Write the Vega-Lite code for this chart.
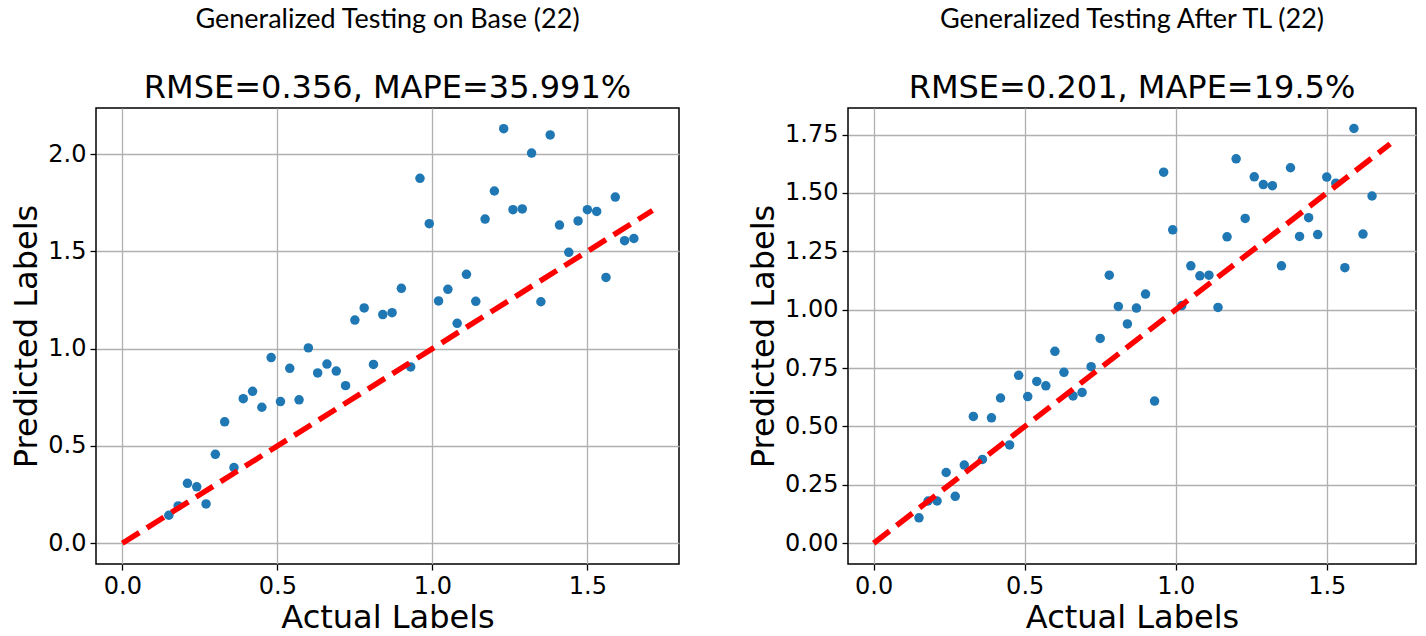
{
  "$schema": "https://vega.github.io/schema/vega-lite/v6.json",
  "background": "white",
  "padding": {"left": 10, "top": 5, "right": 5, "bottom": 0},
  "spacing": 66,
  "datasets": {
    "base": [
      {"actual": 0.15, "predicted": 0.144}, {"actual": 0.18, "predicted": 0.192}, {"actual": 0.21, "predicted": 0.308},
      {"actual": 0.24, "predicted": 0.290}, {"actual": 0.27, "predicted": 0.202}, {"actual": 0.30, "predicted": 0.457},
      {"actual": 0.33, "predicted": 0.624}, {"actual": 0.36, "predicted": 0.389}, {"actual": 0.39, "predicted": 0.743},
      {"actual": 0.42, "predicted": 0.781}, {"actual": 0.45, "predicted": 0.699}, {"actual": 0.48, "predicted": 0.954},
      {"actual": 0.51, "predicted": 0.728}, {"actual": 0.54, "predicted": 0.899}, {"actual": 0.57, "predicted": 0.737},
      {"actual": 0.60, "predicted": 1.004}, {"actual": 0.63, "predicted": 0.875}, {"actual": 0.66, "predicted": 0.921},
      {"actual": 0.69, "predicted": 0.885}, {"actual": 0.72, "predicted": 0.810}, {"actual": 0.75, "predicted": 1.147},
      {"actual": 0.78, "predicted": 1.209}, {"actual": 0.81, "predicted": 0.919}, {"actual": 0.84, "predicted": 1.175},
      {"actual": 0.87, "predicted": 1.185}, {"actual": 0.90, "predicted": 1.310}, {"actual": 0.93, "predicted": 0.906},
      {"actual": 0.96, "predicted": 1.875}, {"actual": 0.99, "predicted": 1.642}, {"actual": 1.02, "predicted": 1.245},
      {"actual": 1.05, "predicted": 1.305}, {"actual": 1.08, "predicted": 1.130}, {"actual": 1.11, "predicted": 1.382},
      {"actual": 1.14, "predicted": 1.243}, {"actual": 1.17, "predicted": 1.666}, {"actual": 1.20, "predicted": 1.810},
      {"actual": 1.23, "predicted": 2.130}, {"actual": 1.26, "predicted": 1.714}, {"actual": 1.29, "predicted": 1.718},
      {"actual": 1.32, "predicted": 2.005}, {"actual": 1.35, "predicted": 1.241}, {"actual": 1.38, "predicted": 2.098},
      {"actual": 1.41, "predicted": 1.635}, {"actual": 1.44, "predicted": 1.495}, {"actual": 1.47, "predicted": 1.656},
      {"actual": 1.50, "predicted": 1.714}, {"actual": 1.53, "predicted": 1.705}, {"actual": 1.56, "predicted": 1.366},
      {"actual": 1.59, "predicted": 1.779}, {"actual": 1.62, "predicted": 1.555}, {"actual": 1.65, "predicted": 1.566}
    ],
    "tl": [
      {"actual": 0.15, "predicted": 0.109}, {"actual": 0.18, "predicted": 0.181}, {"actual": 0.21, "predicted": 0.181},
      {"actual": 0.24, "predicted": 0.303}, {"actual": 0.27, "predicted": 0.201}, {"actual": 0.30, "predicted": 0.335},
      {"actual": 0.33, "predicted": 0.543}, {"actual": 0.36, "predicted": 0.359}, {"actual": 0.39, "predicted": 0.537},
      {"actual": 0.42, "predicted": 0.622}, {"actual": 0.45, "predicted": 0.421}, {"actual": 0.48, "predicted": 0.719},
      {"actual": 0.51, "predicted": 0.628}, {"actual": 0.54, "predicted": 0.693}, {"actual": 0.57, "predicted": 0.674},
      {"actual": 0.60, "predicted": 0.822}, {"actual": 0.63, "predicted": 0.732}, {"actual": 0.66, "predicted": 0.631},
      {"actual": 0.69, "predicted": 0.646}, {"actual": 0.72, "predicted": 0.756}, {"actual": 0.75, "predicted": 0.877},
      {"actual": 0.78, "predicted": 1.148}, {"actual": 0.81, "predicted": 1.014}, {"actual": 0.84, "predicted": 0.939},
      {"actual": 0.87, "predicted": 1.007}, {"actual": 0.90, "predicted": 1.067}, {"actual": 0.93, "predicted": 0.609},
      {"actual": 0.96, "predicted": 1.589}, {"actual": 0.99, "predicted": 1.342}, {"actual": 1.02, "predicted": 1.018},
      {"actual": 1.05, "predicted": 1.188}, {"actual": 1.08, "predicted": 1.145}, {"actual": 1.11, "predicted": 1.148},
      {"actual": 1.14, "predicted": 1.010}, {"actual": 1.17, "predicted": 1.312}, {"actual": 1.20, "predicted": 1.646},
      {"actual": 1.23, "predicted": 1.391}, {"actual": 1.26, "predicted": 1.569}, {"actual": 1.29, "predicted": 1.536},
      {"actual": 1.32, "predicted": 1.531}, {"actual": 1.35, "predicted": 1.188}, {"actual": 1.38, "predicted": 1.608},
      {"actual": 1.41, "predicted": 1.314}, {"actual": 1.44, "predicted": 1.394}, {"actual": 1.47, "predicted": 1.322},
      {"actual": 1.50, "predicted": 1.568}, {"actual": 1.53, "predicted": 1.542}, {"actual": 1.56, "predicted": 1.180},
      {"actual": 1.59, "predicted": 1.776}, {"actual": 1.62, "predicted": 1.324}, {"actual": 1.65, "predicted": 1.487}
    ],
    "ideal": [
      {"actual": 0, "predicted": 0},
      {"actual": 1.71, "predicted": 1.71}
    ]
  },
  "config": {
    "view": {"stroke": "black", "strokeWidth": 1.5},
    "axis": {
      "labelFont": "DejaVu Sans",
      "labelFontSize": 24,
      "labelColor": "black",
      "titleFont": "DejaVu Sans",
      "titleFontSize": 32,
      "titleFontWeight": "normal",
      "titleColor": "black",
      "grid": true,
      "gridColor": "#b0b0b0",
      "gridWidth": 1.3,
      "domain": false,
      "ticks": true,
      "tickColor": "black",
      "tickSize": 6,
      "tickWidth": 1.3,
      "labelPadding": 4,
      "labelFlush": false,
      "labelOverlap": false
    },
    "title": {
      "font": "Lato",
      "fontSize": 27,
      "fontWeight": "normal",
      "color": "black",
      "subtitleFont": "DejaVu Sans",
      "subtitleFontSize": 32,
      "subtitleColor": "black",
      "subtitlePadding": 39,
      "offset": 3,
      "anchor": "middle"
    }
  },
  "hconcat": [
    {
      "width": 583,
      "height": 456,
      "title": {"text": "Generalized Testing on Base (22)", "subtitle": "RMSE=0.356, MAPE=35.991%"},
      "layer": [
        {
          "data": {"name": "base"},
          "mark": {"type": "circle", "size": 90, "opacity": 1, "color": "#1f77b4"},
          "encoding": {
            "x": {"field": "actual", "type": "quantitative", "title": "Actual Labels",
                  "scale": {"domain": [-0.085, 1.7955], "nice": false, "zero": false},
                  "axis": {"values": [0, 0.5, 1, 1.5], "format": ".1f"}},
            "y": {"field": "predicted", "type": "quantitative", "title": "Predicted Labels",
                  "scale": {"domain": [-0.1065, 2.2365], "nice": false, "zero": false},
                  "axis": {"values": [0, 0.5, 1, 1.5, 2], "format": ".1f"}}
          }
        },
        {
          "data": {"name": "ideal"},
          "mark": {"type": "line", "color": "#ff0000", "strokeWidth": 5.5, "strokeDash": [20, 9]},
          "encoding": {
            "x": {"field": "actual", "type": "quantitative"},
            "y": {"field": "predicted", "type": "quantitative"}
          }
        }
      ]
    },
    {
      "width": 568,
      "height": 456,
      "title": {"text": "Generalized Testing After TL (22)", "subtitle": "RMSE=0.201, MAPE=19.5%"},
      "layer": [
        {
          "data": {"name": "tl"},
          "mark": {"type": "circle", "size": 90, "opacity": 1, "color": "#1f77b4"},
          "encoding": {
            "x": {"field": "actual", "type": "quantitative", "title": "Actual Labels",
                  "scale": {"domain": [-0.085, 1.7955], "nice": false, "zero": false},
                  "axis": {"values": [0, 0.5, 1, 1.5], "format": ".1f"}},
            "y": {"field": "predicted", "type": "quantitative", "title": "Predicted Labels",
                  "scale": {"domain": [-0.0888, 1.8638], "nice": false, "zero": false},
                  "axis": {"values": [0, 0.25, 0.5, 0.75, 1, 1.25, 1.5, 1.75], "format": ".2f"}}
          }
        },
        {
          "data": {"name": "ideal"},
          "mark": {"type": "line", "color": "#ff0000", "strokeWidth": 5.5, "strokeDash": [20, 9]},
          "encoding": {
            "x": {"field": "actual", "type": "quantitative"},
            "y": {"field": "predicted", "type": "quantitative"}
          }
        }
      ]
    }
  ]
}
